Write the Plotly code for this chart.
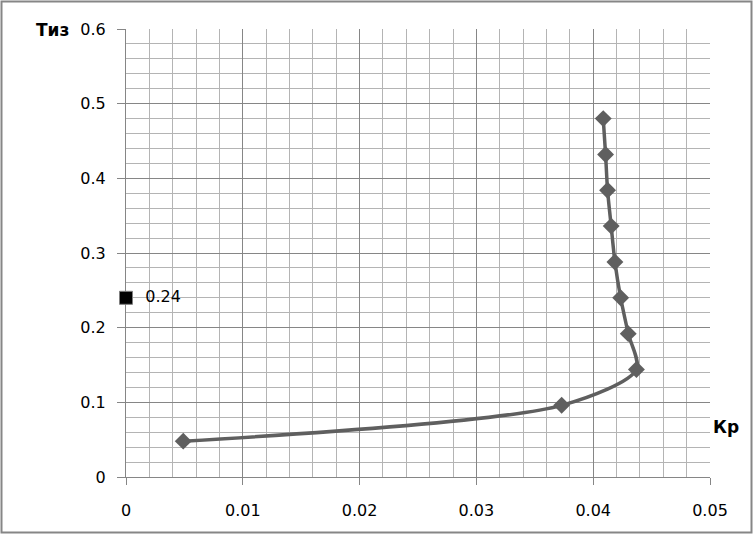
import plotly.graph_objects as go

kp = [0.0049, 0.0373, 0.0437, 0.0430, 0.04235, 0.04186, 0.04154, 0.04123, 0.04106, 0.04086]
tiz = [0.048, 0.096, 0.144, 0.192, 0.240, 0.288, 0.336, 0.384, 0.432, 0.480]

point_x = [0.0]
point_y = [0.24]
point_label = ["0.24"]

x_ticks = [0, 0.01, 0.02, 0.03, 0.04, 0.05]
x_tick_text = ["0", "0.01", "0.02", "0.03", "0.04", "0.05"]
y_ticks = [0, 0.1, 0.2, 0.3, 0.4, 0.5, 0.6]
y_tick_text = ["0", "0.1", "0.2", "0.3", "0.4", "0.5", "0.6"]

line_col = "#5f5f5f"
major_grid = "#868686"
minor_grid = "#b4b4b4"
font_family = "DejaVu Sans"

fig = go.Figure()
fig.add_trace(go.Scatter(
    x=kp, y=tiz, mode="lines+markers",
    line=dict(color=line_col, width=3.5, shape="spline", smoothing=0.8),
    marker=dict(symbol="diamond", size=13, color=line_col),
    showlegend=False, cliponaxis=False,
))
fig.add_trace(go.Scatter(
    x=point_x, y=point_y, mode="markers+text",
    text=["  " + t for t in point_label], textposition="middle right",
    textfont=dict(family=font_family, size=16, color="#000000"),
    marker=dict(symbol="square", size=13, color="#000000", line=dict(color="#7f7f7f", width=1)),
    showlegend=False, cliponaxis=False,
))

W, H = 753, 534
L, R, T, B = 126, 43, 29, 57
pw, ph = W - L - R, H - T - B

fig.update_layout(
    width=W, height=H,
    margin=dict(l=L, r=R, t=T, b=B),
    paper_bgcolor="white", plot_bgcolor="white",
    font=dict(family=font_family, size=16, color="#000000"),
    xaxis=dict(
        range=[0, 0.05], tickvals=x_ticks, ticktext=x_tick_text,
        showgrid=True, gridcolor=major_grid, gridwidth=1,
        minor=dict(dtick=0.002, tick0=0, showgrid=True, gridcolor=minor_grid, gridwidth=1),
        ticks="outside", ticklen=7, tickcolor=major_grid,
        ticklabelstandoff=12,
        zeroline=False, showline=True, linecolor=major_grid, linewidth=1,
        layer="below traces", fixedrange=True,
    ),
    yaxis=dict(
        range=[0, 0.6], tickvals=y_ticks, ticktext=y_tick_text,
        showgrid=True, gridcolor=major_grid, gridwidth=1,
        minor=dict(dtick=0.02, tick0=0, showgrid=True, gridcolor=minor_grid, gridwidth=1),
        ticks="outside", ticklen=8, tickcolor=major_grid,
        ticklabelstandoff=8,
        zeroline=False, showline=True, linecolor=major_grid, linewidth=1,
        layer="below traces", fixedrange=True,
    ),
    shapes=[dict(
        type="rect", xref="paper", yref="paper",
        x0=(1.5 - L) / pw, x1=(751.5 - L) / pw,
        y0=-(532.5 - T - ph) / ph, y1=1 + (T - 1.5) / ph,
        line=dict(color="#868686", width=2), fillcolor="rgba(0,0,0,0)", layer="below",
    )],
    annotations=[
        dict(text="<b>Тиз</b>", xref="paper", yref="paper",
             x=(52 - L) / pw, y=1 + (T - 30) / ph, showarrow=False,
             xanchor="center", yanchor="middle",
             font=dict(family=font_family, size=17, color="#000000")),
        dict(text="<b>Кр</b>", xref="paper", yref="paper",
             x=(726 - L) / pw, y=(H - B - 427) / ph, showarrow=False,
             xanchor="center", yanchor="middle",
             font=dict(family=font_family, size=17, color="#000000")),
    ],
)

fig.write_html(
    "out.html",
    config={"displayModeBar": False, "staticPlot": True},
    post_script="document.body.style.margin='0px';document.body.style.overflow='hidden';",
)
